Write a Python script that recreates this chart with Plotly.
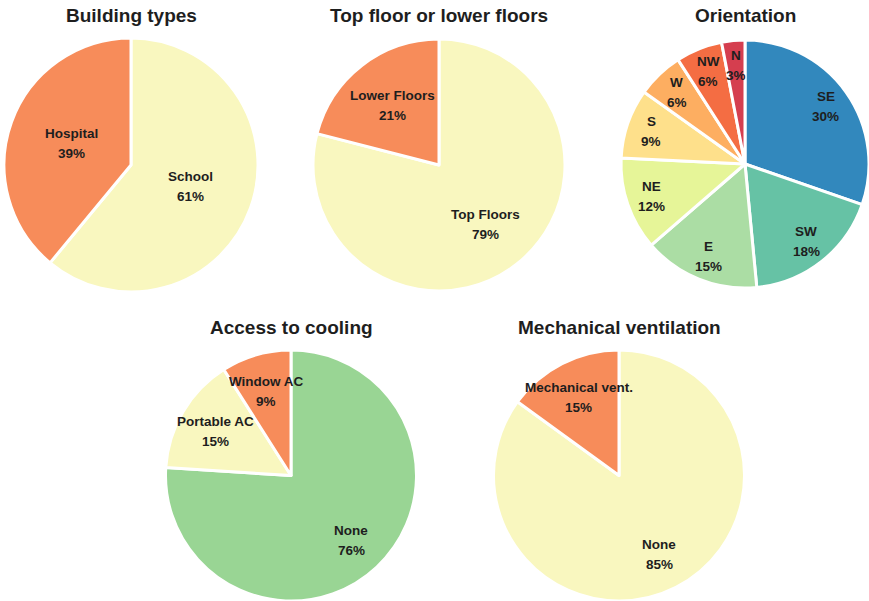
import math
import plotly.graph_objects as go

# ---- data -------------------------------------------------------------
building_labels = ["School", "Hospital"]
building_pct = [61, 39]

floor_labels = ["Top Floors", "Lower Floors"]
floor_pct = [79, 21]

orient_labels = ["SE", "SW", "E", "NE", "S", "W", "NW", "N"]
orient_pct = [30, 18, 15, 12, 9, 6, 6, 3]

cooling_labels = ["None", "Portable AC", "Window AC"]
cooling_pct = [76, 15, 9]

vent_labels = ["None", "Mechanical vent."]
vent_pct = [85, 15]

titles = ["Building types", "Top floor or lower floors", "Orientation",
          "Access to cooling", "Mechanical ventilation"]

# ---- styling ----------------------------------------------------------
W, H = 869, 601
ORANGE = "#F78C5A"
PALE = "#F9F7BF"
GREEN = "#99D594"
spectral8 = ["#3288BD", "#66C2A5", "#ABDDA4", "#E6F598",
             "#FEE08B", "#FDAE61", "#F46D43", "#D53E4F"]
FONT = "Liberation Sans, Arial, sans-serif"
TXT = "#1E1E1E"

# (labels, values, colours, centre x px, centre y px, radius px, label radius factor)
panels = [
    (building_labels, building_pct, [PALE, ORANGE], 131, 165, 127, 0.5),
    (floor_labels, floor_pct, [PALE, ORANGE], 439, 165, 126, 0.6),
    (orient_labels, orient_pct, spectral8, 745, 164, 124, 0.8),
    (cooling_labels, cooling_pct, [GREEN, PALE, ORANGE], 291, 476, 126, 0.7),
    (vent_labels, vent_pct, [PALE, ORANGE], 619, 476, 126, 0.7),
]
title_y = [16, 16, 16, 327, 327]

fig = go.Figure()
annotations = []

for i, (labels, vals, cols, cx, cy, r, k) in enumerate(panels):
    fig.add_trace(go.Pie(
        labels=labels, values=vals, sort=False, direction="clockwise",
        rotation=0, textinfo="none", hoverinfo="label+percent",
        marker=dict(colors=cols, line=dict(color="white", width=3)),
        domain=dict(x=[max(0, (cx - r) / W), min(1, (cx + r) / W)],
                    y=[max(0, 1 - (cy + r) / H), min(1, 1 - (cy - r) / H)]),
        showlegend=False,
    ))
    # slice labels placed along each slice's mid-angle
    total = sum(vals)
    cum = 0
    for lab, v in zip(labels, vals):
        mid = (cum + v / 2) / total * 2 * math.pi
        cum += v
        px = cx + k * r * math.sin(mid)
        py = cy - k * r * math.cos(mid)
        for txt, shift in ((lab, 10), (f"{v}%", -10)):
            annotations.append(dict(
                x=px / W, y=1 - py / H, xref="paper", yref="paper",
                text=f"<b>{txt}</b>", showarrow=False, yshift=shift,
                font=dict(family=FONT, size=13.5, color=TXT),
                xanchor="center", yanchor="middle"))
    annotations.append(dict(
        x=cx / W, y=1 - title_y[i] / H, xref="paper", yref="paper",
        text=f"<b>{titles[i]}</b>", showarrow=False,
        font=dict(family=FONT, size=19, color=TXT),
        xanchor="center", yanchor="middle"))

fig.update_layout(
    width=W, height=H, margin=dict(l=0, r=0, t=0, b=0),
    paper_bgcolor="white", plot_bgcolor="white",
    annotations=annotations,
)

fig.write_html("out.html")
